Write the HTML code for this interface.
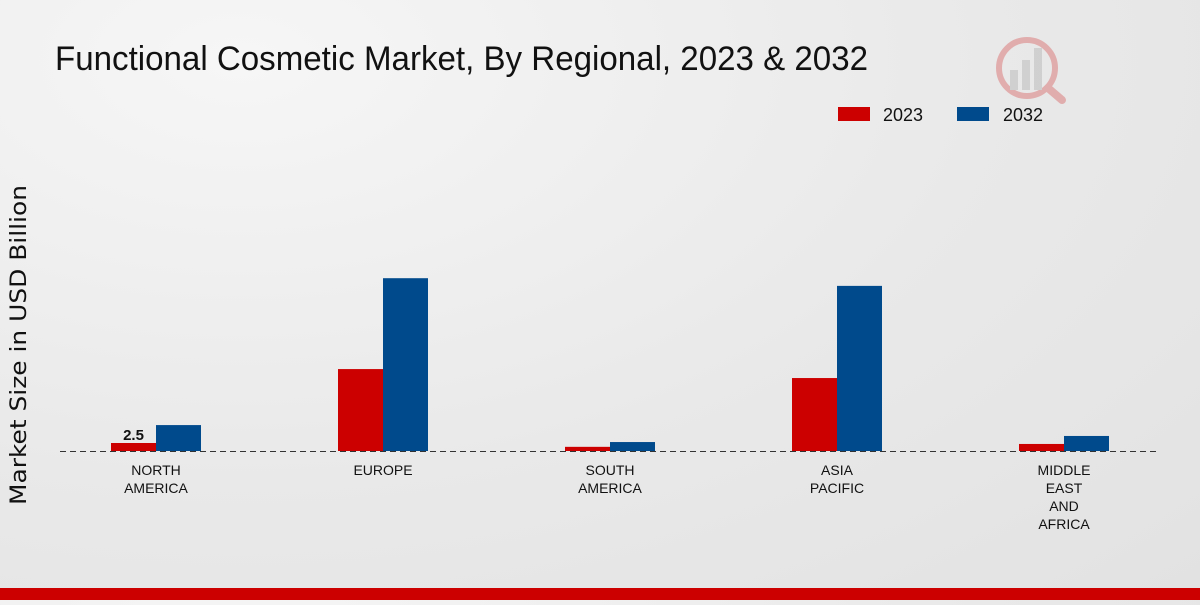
<!DOCTYPE html>
<html><head><meta charset="utf-8"><style>
body{margin:0;width:1200px;height:600px;overflow:hidden;background:radial-gradient(ellipse at 20% 10%,#f6f6f6 0%,#e9e9e9 55%,#e2e2e2 100%);font-family:"Liberation Sans",sans-serif}
</style></head><body>
<svg width="1200" height="600">
<text x="55" y="70" font-size="34" fill="#111" textLength="813" lengthAdjust="spacingAndGlyphs">Functional Cosmetic Market, By Regional, 2023 &amp; 2032</text>
<g opacity="0.25">
<circle cx="1027" cy="68" r="28" fill="none" stroke="#c00" stroke-width="6"/>
<rect x="1010" y="70" width="8" height="20" fill="#888"/><rect x="1022" y="60" width="8" height="30" fill="#888"/><rect x="1034" y="48" width="8" height="42" fill="#888"/>
<line x1="1048" y1="88" x2="1062" y2="100" stroke="#c00" stroke-width="8" stroke-linecap="round"/>
</g>
<g>
<rect x="838" y="107" width="32" height="14" fill="#cc0000"/>
<text x="883" y="121" font-size="18" fill="#111" textLength="40" lengthAdjust="spacingAndGlyphs">2023</text>
<rect x="957" y="107" width="32" height="14" fill="#004a8c"/>
<text x="1003" y="121" font-size="18" fill="#111" textLength="40" lengthAdjust="spacingAndGlyphs">2032</text>
</g>
<text transform="translate(26,345) rotate(-90)" text-anchor="middle" font-size="22" fill="#111" font-family="DejaVu Sans, sans-serif" textLength="320" lengthAdjust="spacingAndGlyphs">Market Size in USD Billion</text>
<g id="bars"></g>
<line x1="60" y1="451.5" x2="1160" y2="451.5" stroke="#333" stroke-dasharray="6,4"/>
<g id="labels"></g>
<rect x="0" y="588" width="1200" height="12" fill="#cc0000"/>
</svg>
<script>
const categories=[["NORTH","AMERICA"],["EUROPE"],["SOUTH","AMERICA"],["ASIA","PACIFIC"],["MIDDLE","EAST","AND","AFRICA"]];
const values2023=[2.5,25.6,1.3,22.8,2.2];
const values2032=[8.1,54,2.8,51.6,4.7];
const NS="http://www.w3.org/2000/svg";
const base=451,scale=3.2,x0=156,step=227,bw=45;
const y=v=>base-v*scale;
const bars=document.getElementById('bars'),labels=document.getElementById('labels');
function rect(x,v,c,n){const r=document.createElementNS(NS,'rect');r.setAttribute('x',x);r.setAttribute('y',y(v));r.setAttribute('width',bw);r.setAttribute('height',base-y(v));r.setAttribute('fill',c);


bars.appendChild(r);}
categories.forEach((c,i)=>{const cx=x0+i*step;
rect(cx-bw,values2023[i],'#cc0000','bar-2023-'+i);
rect(cx,values2032[i],'#004a8c','bar-2032-'+i);
c.forEach((l,j)=>{const t=document.createElementNS(NS,'text');t.setAttribute('x',cx);t.setAttribute('y',475+j*18);t.setAttribute('text-anchor','middle');t.setAttribute('font-size','14');t.setAttribute('fill','#111');t.textContent=l;


labels.appendChild(t);});
});
const v=document.createElementNS(NS,'text');v.setAttribute('x',x0-bw/2);v.setAttribute('y',y(values2023[0])-3);v.setAttribute('text-anchor','middle');v.setAttribute('font-size','15');v.setAttribute('font-weight','bold');v.setAttribute('fill','#111');v.textContent=values2023[0];


labels.appendChild(v);
</script>
</body></html>
